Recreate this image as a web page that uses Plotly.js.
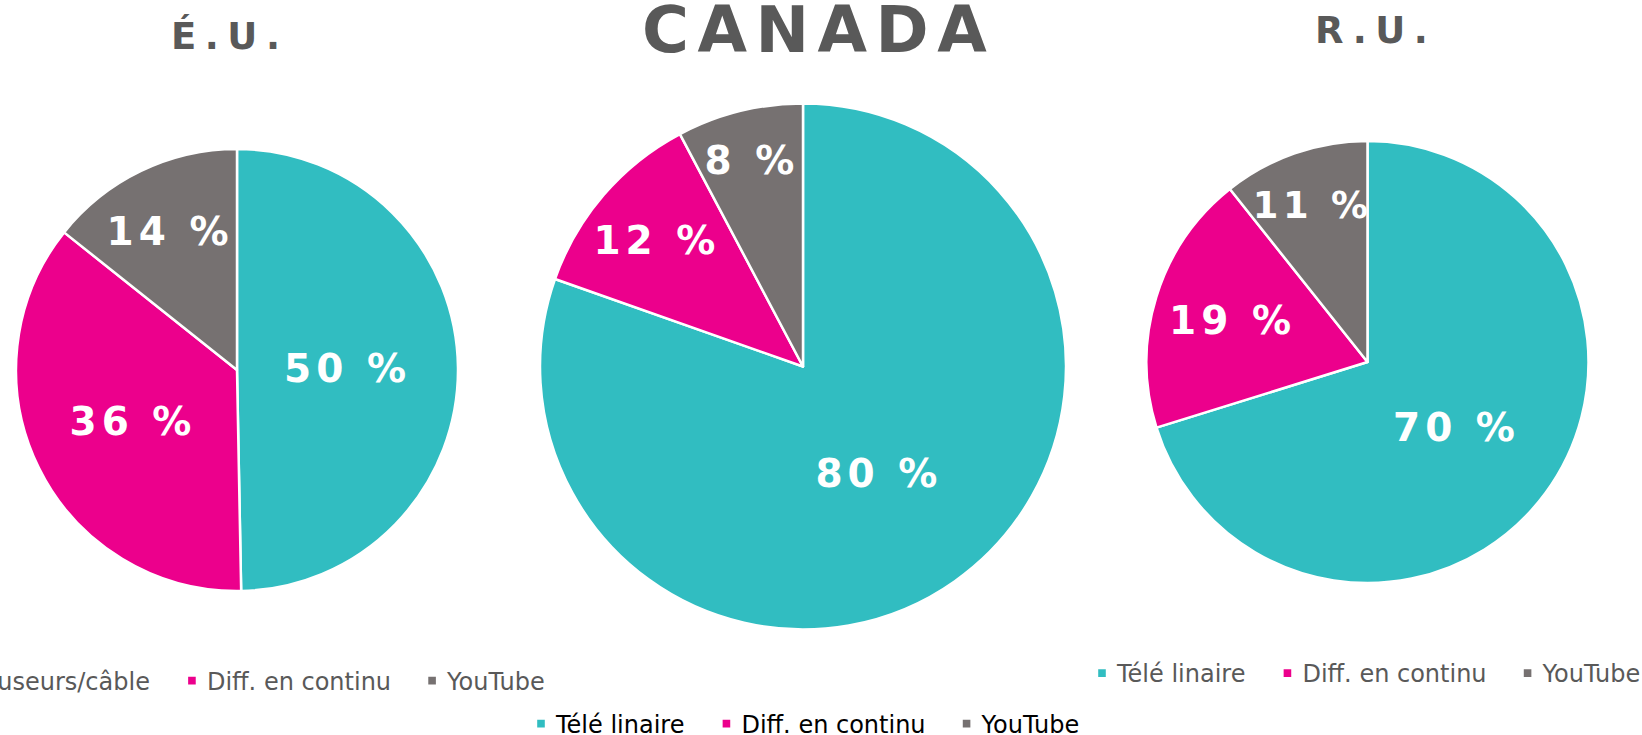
<!DOCTYPE html>
<html>
<head>
<meta charset="utf-8">
<script src="https://cdn.plot.ly/plotly-3.0.1.min.js"></script>
<style>
	html, body { margin: 0; padding: 0; background: #fff; }
	#gd { width: 1642px; height: 735px; }
	/* spaced-out titles, wider slice labels, small legend squares close to the text */
	.annotation-text { letter-spacing: 8.5px; }
	.slicetext text { letter-spacing: 5px; }
	.legendpie { transform: translate(36px, 0px) scale(0.8); }
</style>
</head>
<body>
<div id="gd"></div>
<script>
"use strict";

/* data */
var titles = ['É.U.', 'CANADA', 'R.U.'];
var labelsEU = ['Télédiffuseurs/câble', 'Diff. en continu', 'YouTube'];
var labels = ['Télé linaire', 'Diff. en continu', 'YouTube'];
var valuesEU = [49.7, 36.0, 14.3];
var valuesCA = [80.4, 11.85, 7.75];
var valuesRU = [70.2, 19.1, 10.7];

/* style */
var colors = ['#31BDC1', '#EC008C', '#767171'];
var font = 'DejaVu Sans, Verdana, sans-serif';
var W = 1642, H = 735;

var gd;

/* pie box in pixels -> paper domain */
function domain(cx, cy, r)
{
	return {
		x: [(cx - r) / W, (cx + r) / W],
		y: [(H - cy - r) / H, (H - cy + r) / H]
	};
}

/* plotly merges equal labels of all pies into one legend entry,
   so each pie gets its own invisible suffix to keep three legends */
function tag(lbls, n)
{
	return lbls.map(function (l) { return l + '\u200b'.repeat(n); });
}

function pie(lbls, vals, dom, legend)
{
	return {
		type: 'pie',
		labels: lbls,
		values: vals,
		sort: false,
		direction: 'clockwise',
		rotation: 0,
		domain: dom,
		legend: legend,
		marker: { colors: colors, line: { color: '#ffffff', width: 2.5 } },
		texttemplate: '%{value:.0f} %',
		textposition: 'inside',
		insidetextorientation: 'horizontal',
		insidetextfont: { family: font, size: 39, color: '#ffffff', weight: 'bold' },
		hoverinfo: 'none'
	};
}

function legend(x, y, color)
{
	return {
		orientation: 'h',
		x: x / W,
		xanchor: 'left',
		y: (H - y) / H,
		yanchor: 'middle',
		itemwidth: 41,
		bgcolor: 'rgba(0,0,0,0)',
		font: { family: font, size: 24, color: color }
	};
}

function title(text, x, y, size)
{
	return {
		text: text,
		xref: 'paper', yref: 'paper',
		x: x / W, y: (H - y) / H,
		xanchor: 'center', yanchor: 'middle',
		showarrow: false,
		font: { family: font, size: size, color: '#595959', weight: 'bold' }
	};
}

function main()
{
	gd = document.getElementById('gd');

	var data = [
		pie(tag(labelsEU, 0), valuesEU, domain(237, 370, 221), 'legend'),
		pie(tag(labels, 1), valuesCA, domain(803, 366.5, 263), 'legend2'),
		pie(tag(labels, 2), valuesRU, domain(1367.5, 362, 221), 'legend3')
	];

	var layout = {
		width: W,
		height: H,
		margin: { l: 0, r: 0, t: 0, b: 0, pad: 0, autoexpand: false },
		paper_bgcolor: '#ffffff',
		showlegend: true,
		legend: legend(-139, 681, '#595959'),
		legend2: legend(505, 724, '#000000'),
		legend3: legend(1066, 673.5, '#595959'),
		annotations: [
			title(titles[0], 229, 36, 37),
			title(titles[1], 818, 30, 64),
			title(titles[2], 1375.5, 30.5, 37)
		]
	};

	Plotly.newPlot(gd, data, layout, { displayModeBar: false, responsive: false });
}

main();
</script>
</body>
</html>
